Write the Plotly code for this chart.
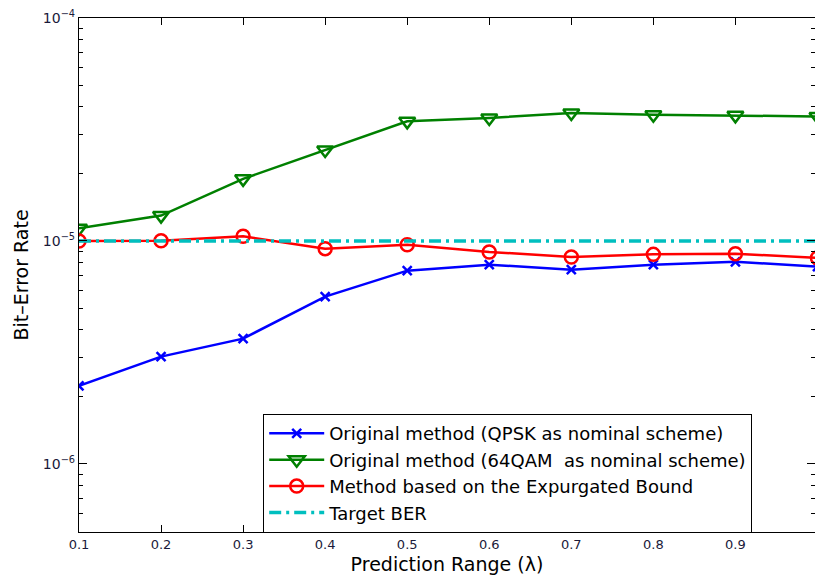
import plotly.graph_objects as go

lam = [0.1, 0.2, 0.3, 0.4, 0.5, 0.6, 0.7, 0.8, 0.9, 1.0]
ber_qpsk = [2.24e-6, 3.03e-6, 3.65e-6, 5.63e-6, 7.36e-6, 7.83e-6, 7.44e-6, 7.83e-6, 8.07e-6, 7.67e-6]
ber_64qam = [1.14e-5, 1.30e-5, 1.90e-5, 2.56e-5, 3.44e-5, 3.56e-5, 3.75e-5, 3.68e-5, 3.66e-5, 3.62e-5]
ber_expurg = [1.0e-5, 1.003e-5, 1.05e-5, 9.24e-6, 9.62e-6, 8.93e-6, 8.48e-6, 8.71e-6, 8.77e-6, 8.40e-6]
target_ber = 1e-5

names = [
    "Original method (QPSK as nominal scheme)",
    "Original method (64QAM  as nominal scheme)",
    "Method based on the Expurgated Bound",
    "Target BER",
]

y_major = [1e-6, 1e-5, 1e-4]
y_major_text = ["10<sup>\u22126</sup>", "10<sup>\u22125</sup>", "10<sup>\u22124</sup>"]
y_minor = [m * 10.0 ** e for e in (-7, -6, -5) for m in range(2, 10)]
x_ticks = [0.1, 0.2, 0.3, 0.4, 0.5, 0.6, 0.7, 0.8, 0.9]

fig = go.Figure()
fig.add_trace(go.Scatter(
    x=lam, y=ber_qpsk, name=names[0], mode="lines+markers",
    line=dict(color="#0000FF", width=2.5),
    marker=dict(symbol="x-thin", size=9, line=dict(color="#0000FF", width=2.5)),
))
fig.add_trace(go.Scatter(
    x=lam, y=ber_64qam, name=names[1], mode="lines+markers",
    line=dict(color="#008000", width=2.5),
    marker=dict(symbol="triangle-down-open", size=14, line=dict(color="#008000", width=2.5)),
))
fig.add_trace(go.Scatter(
    x=lam, y=ber_expurg, name=names[2], mode="lines+markers",
    line=dict(color="#FF0000", width=2.5),
    marker=dict(symbol="circle-open", size=13, line=dict(color="#FF0000", width=2.5)),
))
fig.add_trace(go.Scatter(
    x=[lam[0], lam[-1]], y=[target_ber, target_ber], name=names[3], mode="lines",
    line=dict(color="#00BFBF", width=3.5, dash="12px,5px,3px,5px"),
))

wide = "DejaVu Sans, Verdana, sans-serif"
fig.update_layout(
    width=815, height=579,
    margin=dict(l=79, r=0, t=18, b=47),
    paper_bgcolor="white", plot_bgcolor="white",
    font=dict(family=wide, color="black"),
    showlegend=True,
    legend=dict(
        x=0.25, y=0.114, xanchor="left", yanchor="middle",
        bgcolor="white", bordercolor="black", borderwidth=1.2,
        font=dict(family=wide, size=18, color="black"),
        itemwidth=55, tracegroupgap=0,
    ),
    xaxis=dict(
        range=[0.1, 0.997], automargin=False,
        tickvals=x_ticks, ticktext=[f"{v:.1f}" for v in x_ticks],
        ticks="inside", ticklen=7, tickcolor="black", tickwidth=1.2,
        showline=True, linecolor="black", linewidth=1.2, mirror="ticks",
        showgrid=False, zeroline=False,
        tickfont=dict(family=wide, size=13, color="#1a1a3a"),
        title=dict(text="Prediction Range (\u03bb)", font=dict(family=wide, size=19, color="black"), standoff=6),
    ),
    yaxis=dict(
        type="log", range=[-6.305, -4.0], automargin=False,
        tickvals=y_major, ticktext=y_major_text,
        ticks="inside", ticklen=8, tickcolor="black", tickwidth=1.2,
        minor=dict(tickvals=y_minor, ticks="inside", ticklen=4, tickcolor="black", tickwidth=1.2, showgrid=False),
        showline=True, linecolor="black", linewidth=1.2, mirror="ticks",
        showgrid=False, zeroline=False,
        tickfont=dict(family=wide, size=14, color="#1a1a3a"),
        title=dict(text="Bit\u2013Error Rate", font=dict(family=wide, size=19, color="black"), standoff=9),
    ),
)

fig.write_html("out.html", config={"displayModeBar": False},
               post_script="document.body.style.margin='0';")
